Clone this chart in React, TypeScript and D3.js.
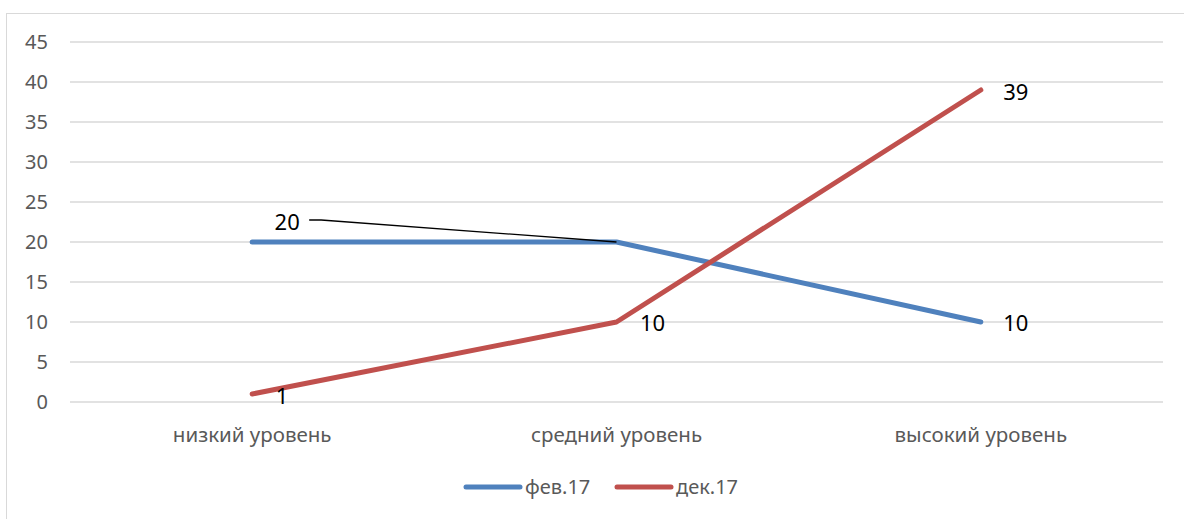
import React from "react";
import * as d3 from "d3";

const categories = ["низкий уровень", "средний уровень", "высокий уровень"];
const seriesNames = ["фев.17", "дек.17"];
const febValues = [20, 20, 10];
const decValues = [1, 10, 39];
const yTicks = [0, 5, 10, 15, 20, 25, 30, 35, 40, 45];
const colors = ["#4F81BD", "#C0504D"];

export default function App() {
  const W = 1184, H = 519;
  const left = 70, right = 1163, top = 42, bottom = 402;
  const x = d3.scalePoint<string>().domain(categories).range([left, right]).padding(0.5);
  const y = d3.scaleLinear().domain([0, 45]).range([bottom, top]);
  const line = d3.line<number>().x((_, i) => x(categories[i])!).y((v) => y(v));
  const font = "'Noto Sans', 'Open Sans', sans-serif";
  const series = [febValues, decValues];

  const febLabelPt = { x: x(categories[1])!, y: y(febValues[1]) };
  const lblFebMid = { x: x(categories[0])! + 35, y: y(febValues[1]) - 20 };

  return (
    <svg width={W} height={H} style={{ position: "absolute", left: 0, top: 0, background: "#fff" }}>
      <rect x={6.5} y={13.5} width={W} height={H} fill="#fff" stroke="#D9D9D9" strokeWidth={1} />
      {yTicks.map((t) => (
        <g key={t}>
          <line x1={left} x2={right} y1={y(t)} y2={y(t)} stroke="#D9D9D9" strokeWidth={1.3} />
          <text x={48} y={y(t)} dy="0.35em" textAnchor="end" fontFamily={font} fontSize={20} fill="#595959">{t}</text>
        </g>
      ))}
      {categories.map((c) => (
        <text key={c} x={x(c)!} y={435} dy="0.35em" textAnchor="middle" fontFamily={font} fontSize={20.5} fill="#595959">{c}</text>
      ))}
      {series.map((s, i) => (
        <path key={i} d={line(s)!} fill="none" stroke={colors[i]} strokeWidth={5} strokeLinecap="round" strokeLinejoin="round" />
      ))}
      <polyline points={`${lblFebMid.x + 22},${lblFebMid.y - 2} ${lblFebMid.x + 34},${lblFebMid.y - 2} ${febLabelPt.x},${febLabelPt.y}`} fill="none" stroke="#000" strokeWidth={1.3} />
      <text x={lblFebMid.x} y={lblFebMid.y} dy="0.35em" textAnchor="middle" fontFamily={font} fontSize={22} fill="#000">{febValues[1]}</text>
      <text x={x(categories[2])! + 35} y={y(febValues[2]) + 1} dy="0.35em" textAnchor="middle" fontFamily={font} fontSize={22} fill="#000">{febValues[2]}</text>
      <text x={x(categories[0])! + 30} y={y(decValues[0]) + 2} dy="0.35em" textAnchor="middle" fontFamily={font} fontSize={22} fill="#000">{decValues[0]}</text>
      <text x={x(categories[1])! + 36} y={y(decValues[1]) + 1} dy="0.35em" textAnchor="middle" fontFamily={font} fontSize={22} fill="#000">{decValues[1]}</text>
      <text x={x(categories[2])! + 35} y={y(decValues[2]) + 2} dy="0.35em" textAnchor="middle" fontFamily={font} fontSize={22} fill="#000">{decValues[2]}</text>
      {seriesNames.map((n, i) => {
        const lx = i === 0 ? 466 : 617;
        return (
          <g key={n}>
            <line x1={lx} x2={lx + 54} y1={487} y2={487} stroke={colors[i]} strokeWidth={5} strokeLinecap="round" />
            <text x={lx + 59} y={487} dy="0.35em" fontFamily={font} fontSize={20} fill="#595959">{n}</text>
          </g>
        );
      })}
    </svg>
  );
}
